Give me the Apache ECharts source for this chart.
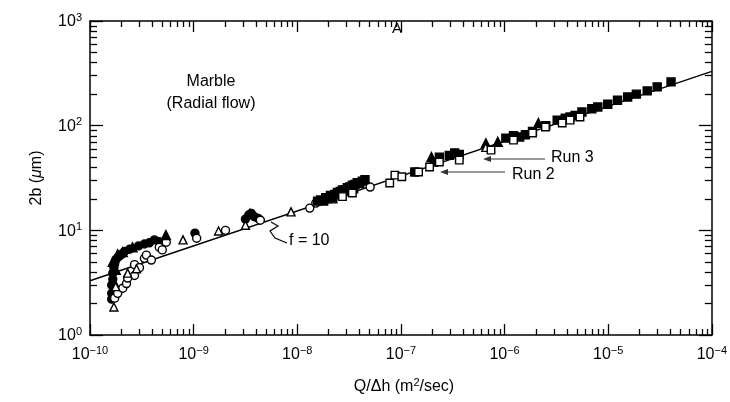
<!DOCTYPE html>
<html><head><meta charset="utf-8">
<script src="https://cdn.jsdelivr.net/npm/echarts@6/dist/echarts.min.js"></script>
<style>html,body{margin:0;padding:0;background:#fff}#c{width:730px;height:402px}</style>
</head><body><div id="c"></div>
<script>
const xExponents = [-10, -9, -8, -7, -6, -5, -4];
const yExponents = [0, 1, 2, 3];
const minorMultipliers = [2, 3, 4, 5, 6, 7, 8, 9];

const filledCircles = [[1.62e-10,2.2],[1.62e-10,2.5],[1.62e-10,3.0],[1.66e-10,3.4],[1.66e-10,3.9],[1.70e-10,4.4],[1.73e-10,4.8],[1.77e-10,5.2],[1.85e-10,5.5],[2.02e-10,5.9],[2.16e-10,6.3],[2.41e-10,6.6],[2.94e-10,7.1],[3.35e-10,7.4],[3.74e-10,7.6],[4.18e-10,8.1],[4.66e-10,7.8],[1.03e-9,9.4],[3.16e-9,12.8],[3.4e-9,14.0],[3.6e-9,14.5],[3.85e-9,13.5],[4.2e-9,13.0]];
const openCircles = [[1.73e-10,2.25],[1.85e-10,2.5],[2.07e-10,2.8],[2.25e-10,3.1],[2.31e-10,3.5],[2.69e-10,3.7],[2.69e-10,4.7],[3.0e-10,4.4],[3.35e-10,5.4],[3.5e-10,5.8],[3.91e-10,5.2],[4.66e-10,6.9],[4.98e-10,6.5],[5.44e-10,7.7],[1.07e-9,8.4],[2.03e-9,10.0],[4.4e-9,12.5],[1.32e-8,16.3],[1.51e-8,18.2],[2.09e-8,20.0],[5.05e-8,25.9]];
const filledTriangles = [[1.66e-10,5.0],[1.70e-10,3.2],[1.77e-10,4.2],[1.85e-10,5.9],[2.07e-10,6.2],[2.57e-10,6.9],[5.4e-10,9.0],[3.5e-9,14.5],[1.97e-7,50],[6.6e-7,68],[8.6e-7,70],[2.12e-6,106]];
const openTriangles = [[1.70e-10,1.85],[1.77e-10,2.9],[2.31e-10,3.9],[2.81e-10,4.3],[7.9e-10,8.1],[1.74e-9,9.85],[3.16e-9,11.2],[8.7e-9,15.0],[2.2e-8,20.0],[6.6e-7,62]];
const filledSquares = [[1.57e-8,19.0],[1.68e-8,19.5],[1.8e-8,19.0],[1.88e-8,20.5],[2.09e-8,21.5],[2.2e-8,20.5],[2.3e-8,22.0],[2.44e-8,23.0],[2.6e-8,23.5],[2.6e-8,22.0],[2.73e-8,24.3],[2.9e-8,24.5],[3.0e-8,23.5],[3.04e-8,25.5],[3.2e-8,26.0],[3.4e-8,27.0],[3.5e-8,25.0],[3.6e-8,27.5],[3.79e-8,28.5],[4.0e-8,28.0],[4.24e-8,29.5],[4.5e-8,30.5],[1.36e-7,36.1],[2.1e-7,44.9],[2.35e-7,50],[2.93e-7,52],[3.3e-7,55],[3.66e-7,53],[1.03e-6,76],[1.22e-6,80],[1.4e-6,78],[1.59e-6,82],[1.86e-6,88],[2.5e-6,100],[3.22e-6,113],[3.85e-6,118],[4.29e-6,121],[4.8e-6,125],[5.58e-6,135],[6.95e-6,145],[7.94e-6,151],[9.9e-6,160],[1.23e-5,175],[1.54e-5,188],[1.87e-5,200],[2.38e-5,215],[2.97e-5,235],[4.04e-5,262]];
const openSquares = [[2.73e-8,21.0],[3.4e-8,22.7],[7.8e-8,28.3],[8.75e-8,33.7],[1.02e-7,32.5],[1.48e-7,36.1],[1.89e-7,40.3],[2.35e-7,44.9],[3.66e-7,46.9],[7.4e-7,58.4],[1.22e-6,72.8],[1.86e-6,85],[2.48e-6,97],[3.6e-6,106],[4.29e-6,113],[5.34e-6,121]];
const fitLine = [[1e-10,3.3],[1e-4,330]];

const xMajor = xExponents.map(e => Math.pow(10, e));
const yMajor = yExponents.map(e => Math.pow(10, e));
const minorsOf = exps => {
  const out = [];
  for (let i = 0; i < exps.length - 1; i++) minorMultipliers.forEach(m => out.push(m * Math.pow(10, exps[i])));
  return out;
};
const xMinor = minorsOf(xExponents);
const yMinor = minorsOf(yExponents);

const FONT = 'Liberation Sans';
const supFmt = v => {
  const e = Math.round(Math.log10(v));
  return '{b|10}{s|' + String(e).replace('-', '\u2212') + '}';
};
const rich = {
  b: {fontSize: 16, fontFamily: FONT, color: '#000', lineHeight: 18, verticalAlign: 'bottom'},
  s: {fontSize: 11, fontFamily: FONT, color: '#000', lineHeight: 18, verticalAlign: 'top', padding: [0, 0, 8, 0]}
};

function mkX(pos, major, withLabel) {
  return {
    type: 'log', logBase: 10, min: 1e-10, max: 1e-4, position: pos, gridIndex: 0,
    axisLine: {show: major, onZero: false, lineStyle: {color: '#000', width: 1.5}},
    axisTick: {show: true, inside: true, length: major ? 11 : 6, customValues: major ? xMajor : xMinor, lineStyle: {color: '#000', width: 1.3}},
    axisLabel: {show: withLabel, customValues: xMajor, formatter: supFmt, rich: rich, margin: 10},
    splitLine: {show: false}, minorTick: {show: false}
  };
}
function mkY(pos, major, withLabel) {
  return {
    type: 'log', logBase: 10, min: 1, max: 1000, position: pos, gridIndex: 0,
    axisLine: {show: major, onZero: false, lineStyle: {color: '#000', width: 1.5}},
    axisTick: {show: true, inside: true, length: major ? 13 : 7, customValues: major ? yMajor : yMinor, lineStyle: {color: '#000', width: 1.3}},
    axisLabel: {show: withLabel, customValues: yMajor, formatter: supFmt, rich: rich, margin: 8},
    splitLine: {show: false}, minorTick: {show: false}
  };
}

const marker = (name, data, symbol, filled, size) => ({
  name, type: 'scatter', data, symbol, symbolSize: size, xAxisIndex: 0, yAxisIndex: 0, z: 3,
  itemStyle: {color: filled ? '#000' : '#fff', borderColor: '#000', borderWidth: 1.4, opacity: 1}
});

const chart = echarts.init(document.getElementById('c'), null, {renderer: 'canvas'});
chart.setOption({
  animation: false,
  backgroundColor: '#fff',
  grid: {left: 90, right: 12, top: 21, bottom: 67},
  xAxis: [mkX('bottom', true, true), mkX('bottom', false, false), mkX('top', true, false), mkX('top', false, false)],
  yAxis: [mkY('left', true, true), mkY('left', false, false), mkY('right', true, false), mkY('right', false, false)],
  series: [
    {name: 'f = 10', type: 'line', data: fitLine, showSymbol: false, symbol: 'none', z: 2,
     lineStyle: {color: '#000', width: 1.4}},
    marker('Filled circles', filledCircles, 'circle', true, 8),
    marker('Open circles', openCircles, 'circle', false, 8),
    marker('Filled triangles', filledTriangles, 'triangle', true, 9),
    marker('Open triangles', openTriangles, 'triangle', false, 8),
    marker('Filled squares', filledSquares, 'rect', true, 8),
    marker('Open squares', openSquares, 'rect', false, 7.5)
  ],
  graphic: [
    {type: 'text', x: 397, y: 29, z: 100, style: {text: 'A', font: '15px "Liberation Sans"', fill: '#000', align: 'center', verticalAlign: 'middle'}},
    {type: 'text', x: 211, y: 93, style: {text: 'Marble\n(Radial flow)', font: '16px "Liberation Sans"', fill: '#000', align: 'center', verticalAlign: 'middle', lineHeight: 22}},
    {type: 'line', shape: {x1: 545, y1: 159, x2: 488, y2: 159}, style: {stroke: '#777', lineWidth: 1.5}},
    {type: 'polygon', shape: {points: [[483, 159], [491, 156], [491, 162]]}, style: {fill: '#333'}},
    {type: 'text', x: 551, y: 158, style: {text: 'Run 3', font: '16px "Liberation Sans"', fill: '#000', verticalAlign: 'middle'}},
    {type: 'line', shape: {x1: 505, y1: 172, x2: 445, y2: 172}, style: {stroke: '#777', lineWidth: 1.5}},
    {type: 'polygon', shape: {points: [[440, 172], [448, 169], [448, 175]]}, style: {fill: '#333'}},
    {type: 'text', x: 512, y: 175, style: {text: 'Run 2', font: '16px "Liberation Sans"', fill: '#000', verticalAlign: 'middle'}},
    {type: 'polyline', shape: {points: [[271, 222], [278, 226], [270, 231], [275, 238], [287, 243]]}, style: {stroke: '#000', lineWidth: 1.2, fill: null}},
    {type: 'text', x: 289, y: 241, style: {text: 'f = 10', font: '16px "Liberation Sans"', fill: '#000', verticalAlign: 'middle'}},
    {type: 'text', x: 37, y: 178, rotation: Math.PI / 2,
     style: {text: '{n|2b (}{m|\u03bc}{n|m)}', align: 'center', verticalAlign: 'middle',
       rich: {n: {font: '16px "Liberation Sans"', fill: '#000'}, m: {font: 'italic 16px "Liberation Sans"', fill: '#000'}}}},
    {type: 'text', x: 404, y: 386,
     style: {text: '{n|Q/\u0394h (m}{s|2}{n|/sec)}', align: 'center', verticalAlign: 'middle',
       rich: {n: {fontSize: 16, fontFamily: FONT, fill: '#000', lineHeight: 18, verticalAlign: 'bottom'},
              s: {fontSize: 11, fontFamily: FONT, fill: '#000', lineHeight: 18, verticalAlign: 'top', padding: [0, 0, 8, 0]}}}}
  ]
});
</script></body></html>
